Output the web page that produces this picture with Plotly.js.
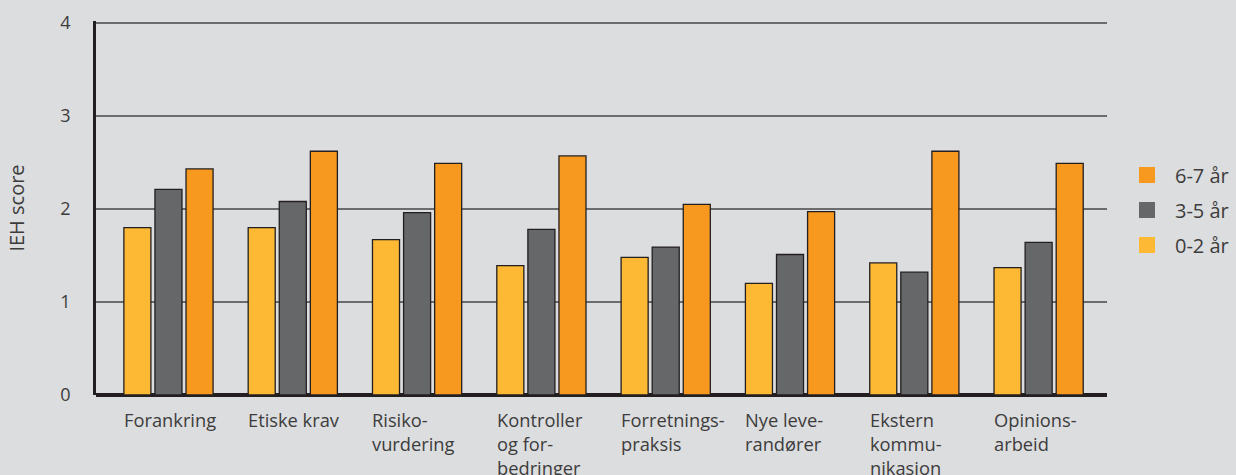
<!DOCTYPE html>
<html>
<head>
<meta charset="utf-8">
<script src="https://cdn.plot.ly/plotly-3.0.1.min.js"></script>
<style>
html,body{margin:0;padding:0;background:#dcdddf;}
#chart{width:1236px;height:475px;}
</style>
</head>
<body>
<div id="chart"></div>
<script>
var categories = ["Forankring", "Etiske krav", "Risikovurdering", "Kontroller og forbedringer", "Forretningspraksis", "Nye leverandører", "Ekstern kommunikasjon", "Opinionsarbeid"];
var tickLabels = ["Forankring", "Etiske krav", "Risiko-<br>vurdering", "Kontroller<br>og for-<br>bedringer", "Forretnings-<br>praksis", "Nye leve-<br>randører", "Ekstern<br>kommu-<br>nikasjon", "Opinions-<br>arbeid"];
var seriesNames = ["0-2 år", "3-5 år", "6-7 år"];
var values02 = [1.80, 1.80, 1.67, 1.39, 1.48, 1.20, 1.42, 1.37];
var values35 = [2.21, 2.08, 1.96, 1.78, 1.59, 1.51, 1.32, 1.64];
var values67 = [2.43, 2.62, 2.49, 2.57, 2.05, 1.97, 2.62, 2.49];
var yTicks = [0, 1, 2, 3, 4];

var colors = ["#fdb933", "#666769", "#f7991f"];
var seriesValues = [values02, values35, values67];
var FONT = "Open Sans, Liberation Sans, sans-serif";
var TXT = "#3c3c3c";

var traces = [];
for (var s = 0; s < 3; s++) {
  traces.push({
    type: "bar",
    x: categories,
    y: seriesValues[s],
    name: seriesNames[s],
    showlegend: false,
    marker: {color: colors[s], line: {color: "#231f20", width: 1.3}},
    hoverinfo: "x+y+name"
  });
}
// legend entries (plain squares, as in the reference)
for (var s2 = 2; s2 >= 0; s2--) {
  traces.push({
    type: "scatter",
    mode: "markers",
    x: [null],
    y: [null],
    name: seriesNames[s2],
    legendgroup: "g" + s2,
    marker: {symbol: "square", size: 16, color: colors[s2], line: {width: 0}},
    hoverinfo: "skip"
  });
}

var annotations = tickLabels.map(function (t, i) {
  return {
    text: t,
    x: i - 0.375,
    xref: "x",
    y: 0,
    yref: "paper",
    yshift: -10,
    xanchor: "left",
    yanchor: "top",
    align: "left",
    showarrow: false,
    font: {family: FONT, size: 18.3, color: TXT}
  };
});

var layout = {
  width: 1236,
  height: 475,
  paper_bgcolor: "#dcdddf",
  plot_bgcolor: "#dcdddf",
  margin: {l: 96, r: 129, t: 21, b: 80},
  barmode: "group",
  bargap: 0.25,
  bargroupgap: 0.13,
  font: {family: FONT, size: 18, color: TXT},
  xaxis: {
    type: "category",
    categoryorder: "array",
    categoryarray: categories,
    range: [-0.583, 7.55],
    showticklabels: false,
    ticks: "",
    showgrid: false,
    zeroline: false,
    showline: false,
    fixedrange: true
  },
  yaxis: {
    range: [0, 4.02],
    tickvals: yTicks,
    ticktext: yTicks.map(String),
    ticks: "",
    ticklabelstandoff: 19,
    showgrid: true,
    gridcolor: "#6b6c6e",
    gridwidth: 1.8,
    zeroline: true,
    zerolinecolor: "#231f20",
    zerolinewidth: 3.5,
    showline: true,
    linecolor: "#231f20",
    linewidth: 2.5,
    tickfont: {family: FONT, size: 18, color: TXT},
    title: {text: "IEH score", font: {family: FONT, size: 20, color: TXT}, standoff: 31},
    fixedrange: true
  },
  legend: {
    xref: "container",
    yref: "container",
    x: 1119 / 1236,
    y: 1 - 210 / 475,
    xanchor: "left",
    yanchor: "middle",
    bgcolor: "rgba(0,0,0,0)",
    font: {family: FONT, size: 20, color: TXT},
    tracegroupgap: 6,
    itemwidth: 46,
    traceorder: "grouped"
  },
  annotations: annotations,
  showlegend: true
};

Plotly.newPlot("chart", traces, layout, {displayModeBar: false});
</script>
</body>
</html>
